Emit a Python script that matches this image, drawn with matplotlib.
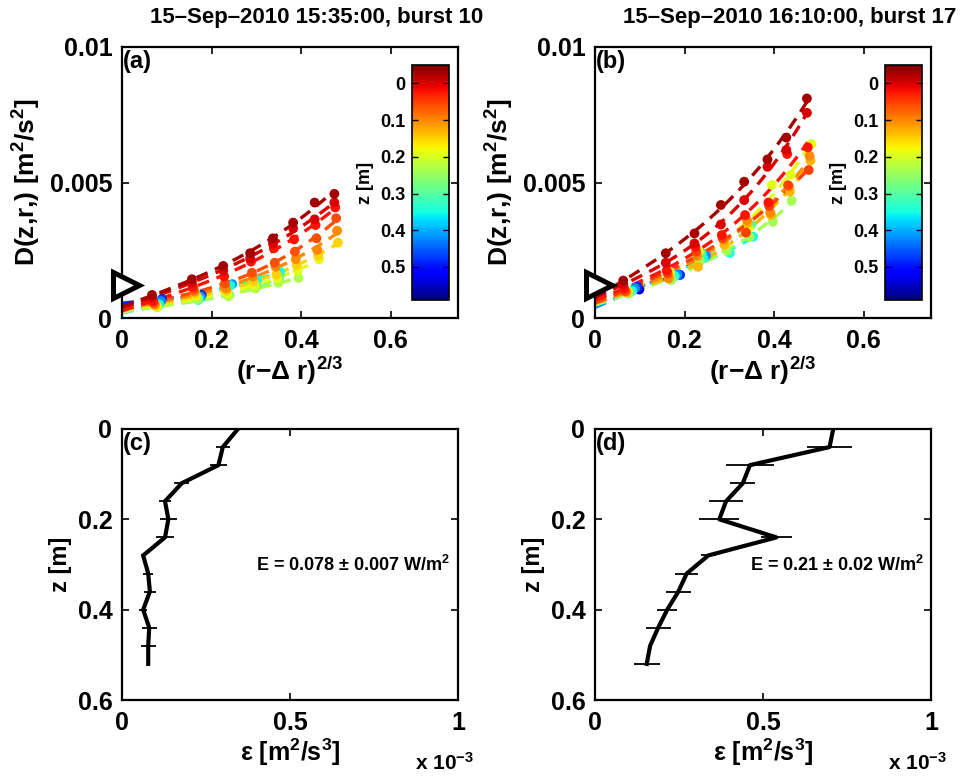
import numpy as np
import matplotlib
matplotlib.use("Agg")
import matplotlib.pyplot as plt
from matplotlib.colors import Normalize
from matplotlib.cm import ScalarMappable
from matplotlib.transforms import offset_copy

plt.rcParams['font.family'] = ['Liberation Sans', 'DejaVu Sans']
plt.rcParams['font.weight'] = 'bold'
plt.rcParams['mathtext.fontset'] = 'custom'
plt.rcParams['mathtext.rm'] = 'Liberation Sans:bold'
plt.rcParams['mathtext.it'] = 'Liberation Sans:bold'
plt.rcParams['mathtext.bf'] = 'Liberation Sans:bold'

# ---------------- data ----------------
titles = ["15\u2013Sep\u20132010 15:35:00, burst 10", "15\u2013Sep\u20132010 16:10:00, burst 17"]

# structure-function columns, (r - dr)^(2/3)
xcols_a = [0.067, 0.156, 0.226, 0.286, 0.337, 0.382, 0.430, 0.474]
xcols_b = [0.063, 0.158, 0.222, 0.281, 0.333, 0.385, 0.427, 0.473]
nan = np.nan
# depth (colour) of each series
zser_a = [-0.03, 0.00, 0.02, 0.06, 0.10, 0.15, 0.19, 0.23, 0.30, 0.35, 0.42, 0.48]
zser_b = [-0.03, 0.00, 0.02, 0.05, 0.10, 0.13, 0.19, 0.24, 0.30, 0.35, 0.42, 0.48, 0.54]
# small x-shift of each series
xshift_a = [0.0, 0.0, 0.002, 0.004, 0.006, 0.008, 0.010, 0.012, 0.014, 0.016, 0.020, 0.022]
xshift_b = [0.0, 0.0, 0.002, 0.004, 0.006, 0.008, 0.010, 0.012, 0.016, 0.020, 0.026, 0.032, 0.036]
# D values, units of 1e-3 m^2/s^2
D_a = [
    [0.85, 1.43, 1.92, 2.39, 2.94, 3.52, 4.26, 4.58],
    [0.78, 1.30, 1.75, 2.20, 2.75, 3.31, 3.64, 4.26],
    [0.62, 1.16, 1.53, 2.08, 2.57, 2.90, 3.43, 4.08],
    [0.55, 1.05, 1.28, 1.67, 2.04, 2.45, 2.94, 3.68],
    [0.50, 0.97, 1.09, 1.53, 1.89, 2.17, 2.51, 3.22],
    [0.45, 0.90, 1.00, 1.34, 1.60, 1.95, 2.30, 2.78],
    [0.42, 0.82, 0.91, 1.20, 1.46, 1.75, 2.17, nan],
    [0.40, 0.70, 0.80, 1.09, 1.30, 1.48, nan, nan],
    [0.45, 0.66, 0.85, 1.15, 1.50, nan, nan, nan],
    [0.50, 0.72, 1.20, 1.40, 1.71, nan, nan, nan],
    [0.62, 0.78, 1.25, nan, nan, nan, nan, nan],
    [0.70, 0.85, nan, nan, nan, nan, nan, nan],
]
D_b = [
    [1.38, 2.39, 3.12, 4.17, 5.03, 5.85, 6.66, 8.10],
    [1.25, 2.04, 2.75, 3.45, 4.35, 5.58, 6.20, 7.57],
    [1.09, 1.75, 2.63, 3.06, 3.80, 4.26, 6.05, 6.30],
    [1.00, 1.65, 2.45, 2.95, 3.15, 4.13, 4.90, 5.46],
    [0.97, 1.46, 2.29, 2.88, 3.62, 3.89, 4.85, 5.98],
    [0.95, 1.50, 1.89, 2.70, 3.50, 3.80, 4.66, 5.81],
    [1.00, 1.70, 2.45, 2.69, 3.30, 4.91, 5.28, 6.42],
    [0.90, 1.40, 2.10, 2.50, 3.00, 3.55, 4.33, nan],
    [0.95, 1.50, 2.39, 2.45, 3.43, nan, nan, nan],
    [1.00, 1.55, 2.20, 2.40, 3.00, nan, nan, nan],
    [1.10, 1.60, 2.30, nan, nan, nan, nan, nan],
    [1.15, 1.59, nan, nan, nan, nan, nan, nan],
    [1.05, nan, nan, nan, nan, nan, nan, nan],
]
noise_a = 1.22  # 1e-3
noise_b = 1.22

# dissipation profiles
z_prof = [0.00, 0.04, 0.08, 0.12, 0.16, 0.20, 0.24, 0.28, 0.32, 0.36, 0.40, 0.44, 0.48, 0.52]
eps_c = [0.345, 0.300, 0.287, 0.178, 0.128, 0.138, 0.128, 0.063, 0.078, 0.083, 0.063, 0.081, 0.078, 0.078]
err_c = [0.020, 0.020, 0.025, 0.022, 0.018, 0.025, 0.026, 0.005, 0.015, 0.017, 0.012, 0.022, 0.022, 0.005]
eps_d = [0.709, 0.698, 0.461, 0.440, 0.390, 0.370, 0.540, 0.337, 0.273, 0.248, 0.215, 0.188, 0.164, 0.154]
err_d = [0.052, 0.068, 0.072, 0.037, 0.050, 0.060, 0.045, 0.022, 0.035, 0.037, 0.030, 0.037, 0.005, 0.039]
E_text = ["E = 0.078 $\\pm$ 0.007 W/m$^2$", "E = 0.21 $\\pm$ 0.02 W/m$^2$"]

# ---------------- figure ----------------
W, H = 964, 780
fig = plt.figure(figsize=(W / 100, H / 100), dpi=100)

def fr(l, t, r, b):
    return [l / W, 1 - b / H, (r - l) / W, (b - t) / H]

cmap = plt.get_cmap('jet_r')
norm = Normalize(vmin=-0.05, vmax=0.59)
TICK_FS = 18

def style(ax):
    ax.tick_params(direction='in', top=True, right=True, length=5, width=1.2,
                   labelsize=TICK_FS)
    ax.tick_params(axis='y', pad=7)
    ax.tick_params(axis='x', pad=8)
    for s in ax.spines.values():
        s.set_linewidth(1.6)
    for lab in ax.get_xticklabels() + ax.get_yticklabels():
        lab.set_fontweight('bold')

def sf_panel(rect, cbrect, xcols, zser, xshift, Dvals, noise, title, letter):
    ax = fig.add_axes(fr(*rect))
    order = list(range(len(zser)))[::-1]
    for i in order:
        d = np.array(Dvals[i], dtype=float) * 1e-3
        x = np.array(xcols) + xshift[i]
        m = ~np.isnan(d)
        col = cmap(norm(zser[i]))
        xs, ds = x[m], d[m]
        if len(xs) >= 4:
            A = np.vstack([np.ones_like(xs), xs, xs ** 3]).T
            coef = np.linalg.lstsq(A, ds, rcond=None)[0]
            xf = np.linspace(0, xs.max(), 60)
            yf = coef[0] + coef[1] * xf + coef[2] * xf ** 3
            ax.plot(xf, yf, '--', color=col, lw=2.4, dashes=(3.6, 2.4), zorder=2)
        elif len(xs) >= 2:
            coef = np.polyfit(xs, ds, 1)
            xf = np.linspace(0, xs.max(), 30)
            ax.plot(xf, np.polyval(coef, xf), '--', color=col, lw=2.4, dashes=(3.6, 2.4), zorder=2)
        ax.scatter(xs, ds, s=50, color=col, edgecolors='none', zorder=3)
    tr = offset_copy(ax.transData, fig=fig, x=4, y=0, units='dots')
    ax.plot([0], [noise * 1e-3], marker='>', ms=19, mfc='white', mec='black', mew=3.6,
            clip_on=False, zorder=10, linestyle='none', transform=tr)
    ax.set_xlim(0, 0.75)
    ax.set_ylim(0, 0.01)
    ax.set_xticks([0, 0.2, 0.4, 0.6])
    ax.set_xticklabels(['0', '0.2', '0.4', '0.6'])
    ax.set_yticks([0, 0.005, 0.01])
    ax.set_yticklabels(['0', '0.005', '0.01'])
    style(ax)
    ax.set_ylabel('D(z,r,) [m$^2$/s$^2$]', fontsize=19, fontweight='bold')
    ax.yaxis.set_label_coords(-0.235, 0.5)
    ax.set_xlabel('(r\u2212\u0394 r)$^{2/3}$', fontsize=19, fontweight='bold')
    ax.xaxis.set_label_coords(0.5, -0.135)
    ax.text(0.58, 1.11, title, transform=ax.transAxes, ha='center', va='center',
            fontsize=16, fontweight='bold')
    ax.text(0.004, 0.99, letter, transform=ax.transAxes, ha='left', va='top',
            fontsize=17, fontweight='bold')
    cax = fig.add_axes(fr(*cbrect))
    cb = fig.colorbar(ScalarMappable(norm=norm, cmap=cmap), cax=cax)
    cb.outline.set_linewidth(1.2)
    cax.invert_yaxis()
    cb.set_ticks([0, 0.1, 0.2, 0.3, 0.4, 0.5])
    cb.set_ticklabels(['0', '0.1', '0.2', '0.3', '0.4', '0.5'])
    cax.yaxis.set_ticks_position('both')
    cax.yaxis.set_label_position('left')
    cax.tick_params(axis='y', direction='in', length=4, width=1, labelleft=True,
                    labelright=False, labelsize=13, pad=5)
    for lab in cax.get_yticklabels():
        lab.set_fontweight('bold')
    cax.set_ylabel('z [m]', fontsize=13, fontweight='bold', labelpad=4)
    return ax

def eps_panel(rect, eps, err, etext, letter, tx):
    ax = fig.add_axes(fr(*rect))
    ax.errorbar(eps, z_prof, xerr=err, color='black', lw=3.0, elinewidth=1.3,
                capsize=0, zorder=3)
    ax.set_xlim(0, 1)
    ax.set_ylim(0.6, 0)
    ax.set_xticks([0, 0.5, 1])
    ax.set_xticklabels(['0', '0.5', '1'])
    ax.set_yticks([0, 0.2, 0.4, 0.6])
    ax.set_yticklabels(['0', '0.2', '0.4', '0.6'])
    style(ax)
    ax.set_ylabel('z [m]', fontsize=17, fontweight='bold')
    ax.yaxis.set_label_coords(-0.15, 0.5)
    ax.set_xlabel('\u03b5 [m$^2$/s$^3$]', fontsize=18, fontweight='bold')
    ax.xaxis.set_label_coords(0.5, -0.135)
    ax.text(0.872, -0.232, 'x 10$^{-3}$', transform=ax.transAxes, ha='left',
            va='center', fontsize=15, fontweight='bold')
    ax.text(tx, 0.5, etext, transform=ax.transAxes, ha='left', va='center',
            fontsize=13, fontweight='bold')
    ax.text(0.004, 0.99, letter, transform=ax.transAxes, ha='left', va='top',
            fontsize=17, fontweight='bold')
    return ax

sf_panel((122, 47, 458, 318), (412, 65, 449, 300), xcols_a, zser_a, xshift_a, D_a,
         noise_a, titles[0], '(a)')
sf_panel((595, 47, 931, 318), (885, 65, 922, 300), xcols_b, zser_b, xshift_b, D_b,
         noise_b, titles[1], '(b)')
eps_panel((122, 429, 458, 700), eps_c, err_c, E_text[0], '(c)', 0.40)
eps_panel((595, 429, 931, 700), eps_d, err_d, E_text[1], '(d)', 0.46)

fig.savefig('out.png', dpi=100)
